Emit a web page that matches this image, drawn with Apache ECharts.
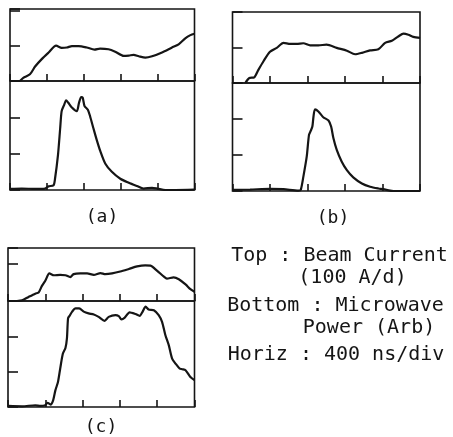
<!DOCTYPE html>
<html>
<head>
<meta charset="utf-8">
<script src="https://cdn.jsdelivr.net/npm/echarts@6/dist/echarts.min.js"></script>
<style>
html,body{margin:0;padding:0;background:#fff;}
#c{width:453px;height:437px;}
</style>
</head>
<body>
<div id="c"></div>
<script>
// x in divisions (400 ns/div), y in vertical divisions
const aTop = [[0.27,0],[0.36,0.09],[0.54,0.19],[0.68,0.41],[0.86,0.62],[1.04,0.80],[1.25,1.0],[1.40,0.94],[1.54,0.95],[1.68,0.99],[1.86,0.99],[2.08,0.95],[2.29,0.89],[2.44,0.92],[2.67,0.90],[2.85,0.83],[3.08,0.71],[3.22,0.72],[3.35,0.74],[3.49,0.70],[3.67,0.66],[3.85,0.70],[4.12,0.81],[4.39,0.95],[4.57,1.04],[4.75,1.21],[4.89,1.30],[5.0,1.34]];
const aBottom = [[0,0.03],[0.32,0.04],[0.68,0.03],[0.95,0.04],[1.04,0.10],[1.18,0.13],[1.22,0.31],[1.30,0.96],[1.36,1.70],[1.40,2.17],[1.47,2.35],[1.52,2.47],[1.58,2.40],[1.67,2.28],[1.81,2.17],[1.87,2.40],[1.93,2.56],[1.97,2.54],[2.02,2.31],[2.11,2.21],[2.17,2.03],[2.26,1.70],[2.35,1.38],[2.45,1.06],[2.58,0.73],[2.76,0.50],[2.99,0.31],[3.22,0.20],[3.44,0.11],[3.62,0.04],[3.85,0.06],[3.99,0.04],[4.21,0.0],[4.48,0.0],[5.0,0.01]];
const bTop = [[0.34,0],[0.45,0.14],[0.58,0.16],[0.69,0.37],[0.83,0.62],[1.0,0.88],[1.18,0.99],[1.36,1.13],[1.54,1.10],[1.71,1.10],[1.89,1.12],[2.07,1.06],[2.29,1.06],[2.51,1.08],[2.78,0.99],[3.05,0.91],[3.27,0.81],[3.45,0.85],[3.67,0.92],[3.89,0.95],[4.07,1.13],[4.25,1.19],[4.42,1.31],[4.56,1.39],[4.69,1.36],[4.82,1.30],[5.0,1.27]];
const bBottom = [[0,0.03],[0.47,0.04],[1.0,0.06],[1.36,0.05],[1.76,0.01],[1.82,0.03],[1.89,0.40],[1.98,0.96],[2.04,1.56],[2.09,1.68],[2.13,1.79],[2.16,2.07],[2.20,2.27],[2.29,2.21],[2.42,2.05],[2.56,1.96],[2.63,1.79],[2.69,1.47],[2.78,1.14],[2.91,0.82],[3.05,0.58],[3.22,0.38],[3.45,0.21],[3.67,0.12],[3.89,0.07],[4.02,0.05],[4.20,0.01],[4.29,0.0],[5.0,0.0]];
const cTop = [[0.24,0],[0.38,0.02],[0.55,0.11],[0.73,0.20],[0.82,0.23],[0.91,0.41],[1.0,0.55],[1.11,0.75],[1.23,0.70],[1.40,0.71],[1.54,0.70],[1.67,0.65],[1.76,0.73],[1.94,0.75],[2.12,0.75],[2.30,0.71],[2.48,0.76],[2.61,0.73],[2.79,0.75],[3.01,0.80],[3.24,0.87],[3.46,0.94],[3.68,0.97],[3.82,0.96],[4.0,0.82],[4.18,0.66],[4.26,0.61],[4.44,0.64],[4.58,0.59],[4.76,0.45],[4.89,0.32],[5.0,0.25]];
const cBottom = [[0,0.03],[0.38,0.02],[0.73,0.05],[0.87,0.03],[1.0,0.05],[1.06,0.12],[1.14,0.07],[1.21,0.19],[1.27,0.47],[1.34,0.71],[1.40,1.09],[1.47,1.51],[1.54,1.67],[1.58,1.94],[1.61,2.51],[1.65,2.58],[1.72,2.70],[1.81,2.79],[1.91,2.79],[2.03,2.70],[2.16,2.65],[2.30,2.62],[2.43,2.55],[2.59,2.44],[2.70,2.55],[2.88,2.60],[2.97,2.57],[3.04,2.48],[3.13,2.53],[3.26,2.68],[3.42,2.63],[3.53,2.58],[3.61,2.70],[3.69,2.84],[3.77,2.76],[3.91,2.74],[4.04,2.60],[4.13,2.41],[4.22,2.03],[4.31,1.75],[4.40,1.37],[4.49,1.23],[4.60,1.09],[4.67,1.07],[4.76,1.04],[4.89,0.85],[5.0,0.76]];
const panelLabels = ['(a)', '(b)', '(c)'];
const noteLines = ['Top : Beam Current', '(100 A/d)', 'Bottom : Microwave', 'Power (Arb)', 'Horiz : 400 ns/div'];
const topMax = [2.04, 2.0, 1.44];
const bottomMax = 3;

const ink = '#151515';
const grids = [
  {left:10, top:9, width:184.5, height:72},
  {left:10, top:81, width:184.5, height:109},
  {left:232.5, top:12, width:187.5, height:71},
  {left:232.5, top:83, width:187.5, height:108},
  {left:8, top:248, width:186.5, height:53},
  {left:8, top:301, width:186.5, height:106}
].map(g => Object.assign({show:true, borderColor:ink, borderWidth:1.6, backgroundColor:'transparent'}, g));

const seriesData = [aTop, aBottom, bTop, bBottom, cTop, cBottom];
const xAxes = [], yAxes = [], series = [];
seriesData.forEach((d, i) => {
  const isTop = i % 2 === 0;
  xAxes.push({gridIndex:i, type:'value', min:0, max:5, interval:1,
    axisLine:{show:false}, axisLabel:{show:false}, splitLine:{show:false},
    axisTick:{show:true, inside:true, length:7, lineStyle:{color:ink, width:1.6}}});
  yAxes.push({gridIndex:i, type:'value', min:0, max:isTop ? topMax[i/2] : bottomMax, interval:1,
    axisLine:{show:false}, axisLabel:{show:false}, splitLine:{show:false},
    axisTick:{show:true, inside:true, length:10, lineStyle:{color:ink, width:1.6}}});
  series.push({type:'line', xAxisIndex:i, yAxisIndex:i, data:d, showSymbol:false, smooth:0.25,
    lineStyle:{color:ink, width:2.2}, animation:false, silent:true});
});

const font = '"DejaVu Sans Mono", monospace';
const txt = (text, x, y, size) => ({type:'text', x:x, y:y,
  style:{text:text, fill:ink, font:'normal ' + size + 'px ' + font, textAlign:'center', textVerticalAlign:'middle'}});

const graphic = [
  txt(panelLabels[0], 102, 217, 18),
  txt(panelLabels[1], 333, 218, 18),
  txt(panelLabels[2], 101, 427, 18),
  txt(noteLines[0], 339.5, 256, 20),
  txt(noteLines[1], 352.5, 278, 20),
  txt(noteLines[2], 335.5, 306, 20),
  txt(noteLines[3], 369, 328, 20),
  txt(noteLines[4], 336, 355, 20)
];

const chart = echarts.init(document.getElementById('c'), null, {renderer:'canvas'});
chart.setOption({animation:false, backgroundColor:'#fff', grid:grids, xAxis:xAxes, yAxis:yAxes, series:series, graphic:graphic});
</script>
</body>
</html>
